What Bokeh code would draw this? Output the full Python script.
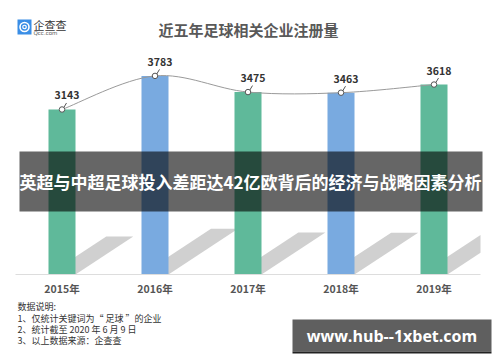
from bokeh.plotting import figure
from bokeh.models import Range1d
from bokeh.core.properties import value
from bokeh.embed import file_html
from bokeh.resources import INLINE

# ---------------- data ----------------
years = ["2015年", "2016年", "2017年", "2018年", "2019年"]
counts = [3143, 3783, 3475, 3463, 3618]
bar_colors = ["#5fb99a", "#79aae0", "#5fb99a", "#79aae0", "#5fb99a"]
title_text = "近五年足球相关企业注册量"
banner_text = "英超与中超足球投入差距达42亿欧背后的经济与战略因素分析"
notes = ["数据说明:",
         "1、仅统计关键词为“ 足球 ”的企业",
         "2、统计截至 2020 年 6 月 9 日",
         "3、以上数据来源：企查查"]
brand = "企查查"
brand_sub = "Qcc.com"
watermark = "www.hub--1xbet.com"

# ---------------- layout helpers (image pixels -> data) ----------------
W, H = 500, 362
OFF = 0
STEP = 93.0      # px per category
X_FIRST = 61.5   # px of first bar centre
BASE = 274.0     # px of value 0
PPU = 0.0525     # px per unit of value
BW = 27.0 / STEP  # bar width in category units


def dx(px):
    return (px - X_FIRST) / STEP


def dy(py):
    return (BASE - py) / PPU


CJK = value("Noto Sans CJK SC")

p = figure(width=W, height=H,
           x_range=Range1d(dx(OFF), dx(OFF + W)),
           y_range=Range1d(dy(OFF + H), dy(OFF)),
           output_backend="svg", toolbar_location=None,
           x_axis_location=None, y_axis_location=None, min_border=0)
p.grid.visible = False
p.outline_line_color = None
p.background_fill_color = "white"
p.border_fill_color = "white"

idx = list(range(len(counts)))


def clip(xs, ys, xmax):
    out = []
    n = len(xs)
    for k in range(n):
        x1, y1 = xs[k], ys[k]
        x2, y2 = xs[(k + 1) % n], ys[(k + 1) % n]
        in1, in2 = x1 <= xmax, x2 <= xmax
        if in1:
            out.append((x1, y1))
        if in1 != in2:
            t = (xmax - x1) / (x2 - x1)
            out.append((xmax, y1 + t * (y2 - y1)))
    return [a for a, b in out], [b for a, b in out]


# ---------------- shadows ----------------
sx, sy = [], []
xclip = dx(480)
for i, v in zip(idx, counts):
    rx = i + BW / 2
    shift = 0.35 * v * PPU / STEP
    top = 0.23 * v
    xs = [rx - BW, rx, rx + shift, rx - BW + shift]
    ys = [0, 0, top, top]
    xs, ys = clip(xs, ys, xclip)
    sx.append(xs)
    sy.append(ys)
p.patches(sx, sy, fill_color="#d0d0d0", line_color=None)

# ---------------- bars ----------------
p.vbar(x=idx, top=counts, width=BW, color=bar_colors, line_color=None)

# baseline
p.segment(x0=[dx(15)], y0=[0], x1=[dx(480)], y1=[0], line_color="#dddddd", line_width=1)

# ---------------- smooth line (Catmull-Rom as bezier) ----------------
pts = list(zip(idx, counts))
x0s, y0s, x1s, y1s, c0x, c0y, c1x, c1y = [], [], [], [], [], [], [], []
n = len(pts)
for k in range(n - 1):
    P0 = pts[max(k - 1, 0)]
    P1 = pts[k]
    P2 = pts[k + 1]
    P3 = pts[min(k + 2, n - 1)]
    x0s.append(P1[0]); y0s.append(P1[1])
    x1s.append(P2[0]); y1s.append(P2[1])
    c0x.append(P1[0] + (P2[0] - P0[0]) / 6); c0y.append(P1[1] + (P2[1] - P0[1]) / 6)
    c1x.append(P2[0] - (P3[0] - P1[0]) / 6); c1y.append(P2[1] - (P3[1] - P1[1]) / 6)
p.bezier(x0=x0s, y0=y0s, x1=x1s, y1=y1s, cx0=c0x, cy0=c0y, cx1=c1x, cy1=c1y,
         line_color="#9a9a9a", line_width=1)

# leaders
p.segment(x0=[i + 1.5 / STEP for i in idx], y0=[v + 1.5 / PPU for v in counts],
          x1=[i + 4.5 / STEP for i in idx], y1=[v + 6.5 / PPU for v in counts],
          line_color="#555555", line_width=1)
p.scatter(x=idx, y=counts, size=5.5, fill_color="white", line_color="#555555", line_width=1)

# value labels
p.text(x=[i + 5 / STEP for i in idx], y=[v + 14 / PPU for v in counts],
       text=[str(v) for v in counts], text_font=CJK, text_font_size="10.5px",
       text_font_style="bold", text_color="#333333", text_align="center",
       text_baseline="middle")

# x labels
p.text(x=idx, y=[dy(287.5)] * len(idx), text=years, text_font=CJK,
       text_font_size="10.5px", text_font_style="bold", text_color="#555555",
       text_align="center", text_baseline="middle")

# ---------------- banner ----------------
p.quad(left=[dx(19)], right=[dx(482)], top=[dy(151)], bottom=[dy(211)],
       fill_color="black", fill_alpha=0.6, line_color=None)
p.text(x=[dx(250)], y=[dy(181)], text=[banner_text], text_font=CJK,
       text_font_size="17px", text_font_style="bold", text_color="white",
       text_align="center", text_baseline="middle")

# ---------------- title ----------------
p.text(x=[dx(248)], y=[dy(29)], text=[title_text], text_font=CJK,
       text_font_size="15px", text_font_style="bold", text_color="#595959",
       text_align="center", text_baseline="middle")

# ---------------- logo ----------------
p.quad(left=[dx(17)], right=[dx(31)], top=[dy(19)], bottom=[dy(34)],
       fill_color="#3a8ee6", line_color=None)
p.scatter(x=[dx(24)], y=[dy(26.5)], size=9, fill_color=None, line_color="white", line_width=1.6)
p.scatter(x=[dx(24)], y=[dy(26.5)], size=3.5, fill_color=None, line_color="white", line_width=1.2)
p.text(x=[dx(33)], y=[dy(24)], text=[brand], text_font=CJK, text_font_size="11px",
       text_color="#333333", text_align="left", text_baseline="middle")
p.text(x=[dx(33)], y=[dy(32.5)], text=[brand_sub], text_font=value("DejaVu Sans"),
       text_font_size="5.5px", text_color="#555555", text_align="left",
       text_baseline="middle")

# ---------------- notes ----------------
note_y = [306, 317.5, 328.5, 339.5]
p.text(x=[dx(17)] * len(notes), y=[dy(v) for v in note_y], text=notes, text_font=CJK,
       text_font_size="9px", text_color="#333333", text_align="left",
       text_baseline="middle")

# ---------------- watermark ----------------
p.quad(left=[dx(292)], right=[dx(491)], top=[dy(319)], bottom=[dy(351)],
       fill_color="#5f5f5f", line_color=None)
p.segment(x0=[dx(292)], y0=[dy(352)], x1=[dx(491)], y1=[dy(352)],
          line_color="#222222", line_width=2)
p.text(x=[dx(391.5)], y=[dy(335.5)], text=[watermark], text_font=value("Open Sans"),
       text_font_size="16px", text_font_style="bold", text_color="white",
       text_align="center", text_baseline="middle")

open("out.html", "w").write(file_html(p, INLINE))
